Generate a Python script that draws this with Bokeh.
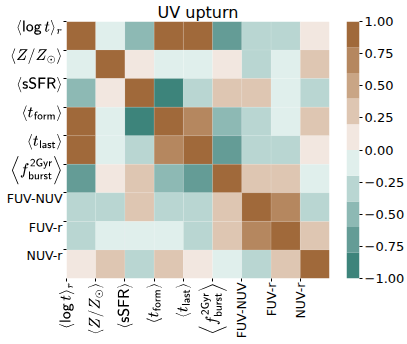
import math
import numpy as np
from bokeh.plotting import figure
from bokeh.layouts import row
from bokeh.models import (ColumnDataSource, LinearColorMapper, FixedTicker,
                          Range1d, LinearAxis)
from bokeh.embed import file_html
from bokeh.resources import INLINE

title_text = "UV upturn"
names = [
    r"$$\langle \mathsf{log}\,t \rangle_r$$",
    r"$$\langle Z/Z_\odot \rangle$$",
    r"$$\langle \mathsf{sSFR} \rangle$$",
    r"$$\langle t_\mathsf{form} \rangle$$",
    r"$$\langle t_\mathsf{last} \rangle$$",
    r"$$\left\langle f_\mathsf{burst}^\mathsf{2Gyr} \right\rangle$$",
    "FUV-NUV",
    "FUV-r",
    "NUV-r",
]

corr = [
    [1.0, -0.1, -0.5, 0.9, 0.9, -0.7, -0.3, -0.3, 0.1],
    [-0.1, 1.0, 0.1, -0.1, -0.1, 0.1, -0.3, -0.1, 0.3],
    [-0.5, 0.1, 1.0, -0.9, -0.3, 0.3, 0.3, -0.1, -0.3],
    [0.9, -0.1, -0.9, 1.0, 0.7, -0.5, -0.3, -0.1, 0.3],
    [0.9, -0.1, -0.3, 0.7, 1.0, -0.7, -0.3, -0.3, 0.1],
    [-0.7, 0.1, 0.3, -0.5, -0.7, 1.0, 0.3, 0.3, -0.1],
    [-0.3, -0.3, 0.3, -0.3, -0.3, 0.3, 1.0, 0.7, -0.3],
    [-0.3, -0.1, -0.1, -0.1, -0.3, 0.3, 0.7, 1.0, 0.3],
    [0.1, 0.3, -0.3, 0.3, 0.1, -0.1, -0.3, 0.3, 1.0],
]

palette = ["#3D847B", "#649C96", "#8DB9B4", "#B9D6D2", "#E0EFEC",
           "#F2E7E0", "#DEC6B2", "#C9A585", "#B5875F", "#A0693A"]
cb_ticks = [-1.0, -0.75, -0.5, -0.25, 0.0, 0.25, 0.5, 0.75, 1.0]
cb_labels = ["\u22121.00", "\u22120.75", "\u22120.50", "\u22120.25",
             "0.00", "0.25", "0.50", "0.75", "1.00"]
vmin, vmax = -1.0, 1.0

FONT = "DejaVu Sans"
FS = "12.5px"
LABEL_NUDGE = 0.21   # small downward nudge of the row labels (style)

n = len(names)
xs, ys, vs = [], [], []
for i in range(n):
    for j in range(n):
        xs.append(j + 0.5)
        ys.append(i + 0.5)
        vs.append(corr[i][j])
src = ColumnDataSource(dict(x=xs, y=ys, v=vs))

mapper = LinearColorMapper(palette=palette, low=vmin, high=vmax)

# ---- heatmap ----
p = figure(width=330, height=344, x_range=Range1d(0, n), y_range=Range1d(n, 0),
           output_backend="svg", toolbar_location=None,
           min_border_left=66, min_border_right=1, min_border_top=21,
           min_border_bottom=66)
p.rect(x="x", y="y", width=1, height=1, source=src,
       fill_color={"field": "v", "transform": mapper},
       line_color="white", line_alpha=0.12, line_width=0.8)

p.grid.visible = False
p.outline_line_color = None


def style(ax):
    ax.axis_line_color = None
    ax.major_tick_in = 0
    ax.major_tick_out = 3
    ax.major_tick_line_color = "black"
    ax.minor_tick_line_color = None
    ax.major_label_standoff = 1
    ax.major_label_text_font = FONT
    ax.major_label_text_font_size = FS
    ax.major_label_text_color = "black"


xa = p.xaxis[0]
style(xa)
xa.ticker = FixedTicker(ticks=list(range(n)))
xa.major_label_overrides = {i: names[i] for i in range(n)}
xa.major_label_orientation = math.pi / 2

# y: tick marks at the row edges ...
ya = p.yaxis[0]
style(ya)
ya.ticker = FixedTicker(ticks=list(range(n)))
ya.major_label_overrides = {i: "" for i in range(n)}
ya.major_label_standoff = 0
# ... and the row labels on a second, mark-less axis
ypos = [i + LABEL_NUDGE for i in range(n)]
yl = LinearAxis(ticker=FixedTicker(ticks=ypos),
                major_label_overrides={t: names[i] for i, t in enumerate(ypos)})
style(yl)
yl.major_tick_out = 0
yl.major_tick_line_color = None
p.add_layout(yl, "left")

p.title.text = title_text
p.title.align = "center"
p.title.text_font = FONT
p.title.text_font_size = "16px"
p.title.text_font_style = "normal"
p.title.text_color = "black"
p.title.standoff = 0

# ---- colour bar (own narrow figure) ----
edges = np.linspace(vmin, vmax, len(palette) + 1)
cb_src = ColumnDataSource(dict(bottom=edges[:-1], top=edges[1:], color=palette))
cbf = figure(width=77, height=344, x_range=Range1d(0, 1),
             y_range=Range1d(vmin, vmax), output_backend="svg",
             toolbar_location=None, x_axis_location=None,
             y_axis_location="right",
             min_border_left=16, min_border_right=48, min_border_top=21,
             min_border_bottom=66)
cbf.quad(left=0, right=1, bottom="bottom", top="top", fill_color="color",
         line_color=None, source=cb_src)
cbf.grid.visible = False
cbf.outline_line_color = None
cax = cbf.yaxis[0]
style(cax)
cax.ticker = FixedTicker(ticks=cb_ticks)
cax.major_label_overrides = {t: l for t, l in zip(cb_ticks, cb_labels)}
cax.major_label_standoff = 2
cax.major_label_text_font_size = "13px"

layout = row(p, cbf)
open("out.html", "w").write(file_html(layout, INLINE))
